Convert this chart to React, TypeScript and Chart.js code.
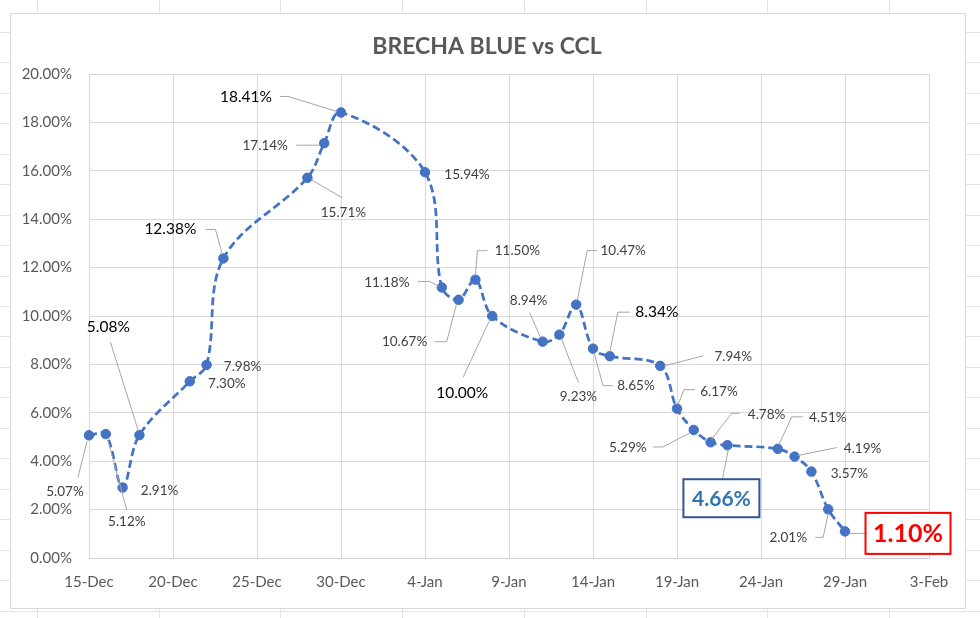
import { useEffect, useRef } from "react";
import { Chart, registerables } from "chart.js";

Chart.register(...registerables);

// ---- DATA ----
const startDate = "2020-12-15";
const dates = [
  "2020-12-15", "2020-12-16", "2020-12-17", "2020-12-18", "2020-12-21", "2020-12-22",
  "2020-12-23", "2020-12-28", "2020-12-29", "2020-12-30", "2021-01-04", "2021-01-05",
  "2021-01-06", "2021-01-07", "2021-01-08", "2021-01-11", "2021-01-12", "2021-01-13",
  "2021-01-14", "2021-01-15", "2021-01-18", "2021-01-19", "2021-01-20", "2021-01-21",
  "2021-01-22", "2021-01-25", "2021-01-26", "2021-01-27", "2021-01-28", "2021-01-29",
];
const values = [
  5.07, 5.12, 2.91, 5.08, 7.30, 7.98,
  12.38, 15.71, 17.14, 18.41, 15.94, 11.18,
  10.67, 11.50, 10.00, 8.94, 9.23, 10.47,
  8.65, 8.34, 7.94, 6.17, 5.29, 4.78,
  4.66, 4.51, 4.19, 3.57, 2.01, 1.10,
];
const tickLabels = [
  "15-Dec", "20-Dec", "25-Dec", "30-Dec", "4-Jan", "9-Jan",
  "14-Jan", "19-Jan", "24-Jan", "29-Jan", "3-Feb",
];
const title = "BRECHA BLUE vs CCL";

// ---- LABEL LAYOUT (pixel offsets relative to each point) ----
const labelOffsets: [number, number][] = [
  [-24, 56], [21, 88], [37, 3], [-31, -108], [37, 2], [36, 2],
  [-53, -29], [36, 35], [-59, 2], [-95, -15], [42, 2], [-55, -5],
  [-54, 42], [42, -29], [-30, 77], [-14, -41], [19, 62], [47, -54],
  [43, 37], [47, -44], [73, -9], [42, -17], [-66, 18], [56, -28],
  [-6, 53], [50, -31], [68, -8], [38, 2], [-40, 28], [63, 2],
];
const labelKinds = [
  "n", "n", "n", "b", "n", "n",
  "b", "n", "n", "b", "n", "n",
  "n", "n", "b", "n", "n", "n",
  "n", "b", "n", "n", "n", "n",
  "blue", "n", "n", "n", "n", "red",
];
const leaders: [number, number][][] = [
  [[-11, 42], [-2, 6]],
  [[21, 76], [2, 6]],
  [],
  [[-29, -93], [-1, -4]],
  [],
  [],
  [[-18, -29], [-8, -29], [-1, -4]],
  [[4, 2], [35, 20]],
  [[-28, 2], [-4, 2]],
  [[-61, -16], [-53, -16], [-4, -1]],
  [],
  [[-24, -6], [-12, -6], [-3, -1]],
  [[-24, 42], [-12, 42], [-2, 4]],
  [[12, -29], [2, -29], [0, -4]],
  [[-29, 61], [-2, 3]],
  [[-13, -29], [-2, -4]],
  [[19, 48], [2, 4]],
  [[21, -54], [11, -54], [1, -4]],
  [[1, 4], [10, 37], [20, 37]],
  [[20, -44], [8, -44], [0, -4]],
  [[43, -10], [4, 0]],
  [[18, -19], [7, -19], [1, -4]],
  [[-41, 17], [-31, 17], [-4, 3]],
  [[29, -29], [21, -29], [1, -3]],
  [[1, 4], [-5, 34]],
  [[25, -32], [14, -32], [1, -4]],
  [[42, -9], [3, -1]],
  [],
  [[-13, 28], [-5, 28], [0, 4]],
  [[5, 2], [21, 2]],
];

const FONT = "Lato, 'Open Sans', sans-serif";
const dayMs = 86400000;
const dayOffset = (d: string) => (Date.parse(d) - Date.parse(startDate)) / dayMs;

const framePlugin = {
  id: "frame",
  beforeDraw(chart: any) {
    const ctx = chart.ctx;
    const W = chart.width;
    const H = chart.height;
    ctx.save();
    ctx.fillStyle = "#ffffff";
    ctx.fillRect(0, 0, W, H);
    // spreadsheet cell lines behind the chart
    ctx.strokeStyle = "#E3E3E3";
    ctx.lineWidth = 1;
    for (let x = 37; x < W; x += 121.7) {
      ctx.beginPath();
      ctx.moveTo(Math.round(x) + 0.5, 0);
      ctx.lineTo(Math.round(x) + 0.5, H);
      ctx.stroke();
    }
    for (let y = 32; y < H; y += 30.45) {
      ctx.beginPath();
      ctx.moveTo(0, Math.round(y) + 0.5);
      ctx.lineTo(W, Math.round(y) + 0.5);
      ctx.stroke();
    }
    // chart frame
    ctx.fillStyle = "#ffffff";
    ctx.fillRect(10, 13, 955, 595);
    ctx.strokeStyle = "#D9D9D9";
    ctx.strokeRect(10.5, 13.5, 955, 595);
    // title
    ctx.fillStyle = "#595959";
    ctx.font = `bold 23px ${FONT}`;
    ctx.textAlign = "center";
    ctx.textBaseline = "middle";
    ctx.fillText(title, 487, 47);
    ctx.restore();
  },
};

const labelPlugin = {
  id: "pointLabels",
  afterDatasetsDraw(chart: any) {
    const ctx = chart.ctx;
    const meta = chart.getDatasetMeta(0);
    ctx.save();
    meta.data.forEach((el: any, i: number) => {
      const px = el.x;
      const py = el.y;
      const lead = leaders[i];
      if (lead && lead.length > 1) {
        ctx.strokeStyle = "#A6A6A6";
        ctx.lineWidth = 1;
        ctx.beginPath();
        lead.forEach(([ox, oy], k) => {
          if (k === 0) ctx.moveTo(px + ox, py + oy);
          else ctx.lineTo(px + ox, py + oy);
        });
        ctx.stroke();
      }
      const [dx, dy] = labelOffsets[i];
      const cx = px + dx;
      const cy = py + dy;
      const text = values[i].toFixed(2) + "%";
      const kind = labelKinds[i];
      ctx.textAlign = "center";
      ctx.textBaseline = "middle";
      if (kind === "blue" || kind === "red") {
        const w = kind === "blue" ? 76 : 85;
        const h = kind === "blue" ? 38 : 41;
        ctx.fillStyle = "#ffffff";
        ctx.fillRect(cx - w / 2, cy - h / 2, w, h);
        ctx.strokeStyle = kind === "blue" ? "#2F5597" : "#FF0000";
        ctx.lineWidth = 2;
        ctx.strokeRect(cx - w / 2, cy - h / 2, w, h);
        ctx.fillStyle = kind === "blue" ? "#2E75B6" : "#FF0000";
        ctx.font = kind === "blue" ? `bold 21px ${FONT}` : `bold 25px ${FONT}`;
        ctx.fillText(text, cx, cy + 1);
      } else if (kind === "b") {
        ctx.fillStyle = "#000000";
        ctx.font = `15.5px ${FONT}`;
        ctx.fillText(text, cx, cy);
      } else {
        ctx.fillStyle = "#404040";
        ctx.font = `13.5px ${FONT}`;
        ctx.fillText(text, cx, cy);
      }
    });
    ctx.restore();
  },
};

export default function App() {
  const canvasRef = useRef<HTMLCanvasElement | null>(null);

  useEffect(() => {
    const canvas = canvasRef.current;
    if (!canvas) return;
    const points = values.map((v, i) => ({ x: dayOffset(dates[i]), y: v }));
    const chart = new Chart(canvas, {
      type: "line",
      data: {
        datasets: [
          {
            data: points,
            borderColor: "#4472C4",
            backgroundColor: "#4472C4",
            borderWidth: 2.75,
            borderDash: [8, 4],
            tension: 0.35,
            pointRadius: 4.75,
            pointBorderWidth: 1,
            pointBorderColor: "#4472C4",
            pointBackgroundColor: "#4472C4",
            fill: false,
            clip: false,
          },
        ],
      },
      options: {
        responsive: false,
        animation: false,
        devicePixelRatio: 1,
        layout: { padding: { left: 0, right: 51, top: 74, bottom: 0 } },
        plugins: {
          legend: { display: false },
          title: { display: false },
          tooltip: { enabled: false },
        },
        scales: {
          x: {
            type: "linear",
            min: 0,
            max: 50,
            afterFit: (s: any) => {
              s.height = 60;
            },
            ticks: {
              stepSize: 5,
              autoSkip: false,
              maxRotation: 0,
              padding: 15,
              color: "#595959",
              font: { family: FONT, size: 15 },
              callback: (v: any) => tickLabels[Math.round(Number(v) / 5)] ?? "",
            },
            grid: { color: "#D9D9D9", drawTicks: false },
            border: { display: true, color: "#D0D0D0" },
          },
          y: {
            min: 0,
            max: 20,
            afterFit: (s: any) => {
              s.width = 89;
            },
            ticks: {
              stepSize: 2,
              padding: 17,
              color: "#595959",
              font: { family: FONT, size: 15 },
              callback: (v: any) => Number(v).toFixed(2) + "%",
            },
            grid: { color: "#D9D9D9", drawTicks: false },
            border: { display: false },
          },
        },
      },
      plugins: [framePlugin, labelPlugin],
    });
    return () => chart.destroy();
  }, []);

  return (
    <div style={{ position: "fixed", left: 0, top: 0, width: 980, height: 618, background: "#fff" }}>
      <canvas ref={canvasRef} width={980} height={618} style={{ display: "block" }} />
    </div>
  );
}
